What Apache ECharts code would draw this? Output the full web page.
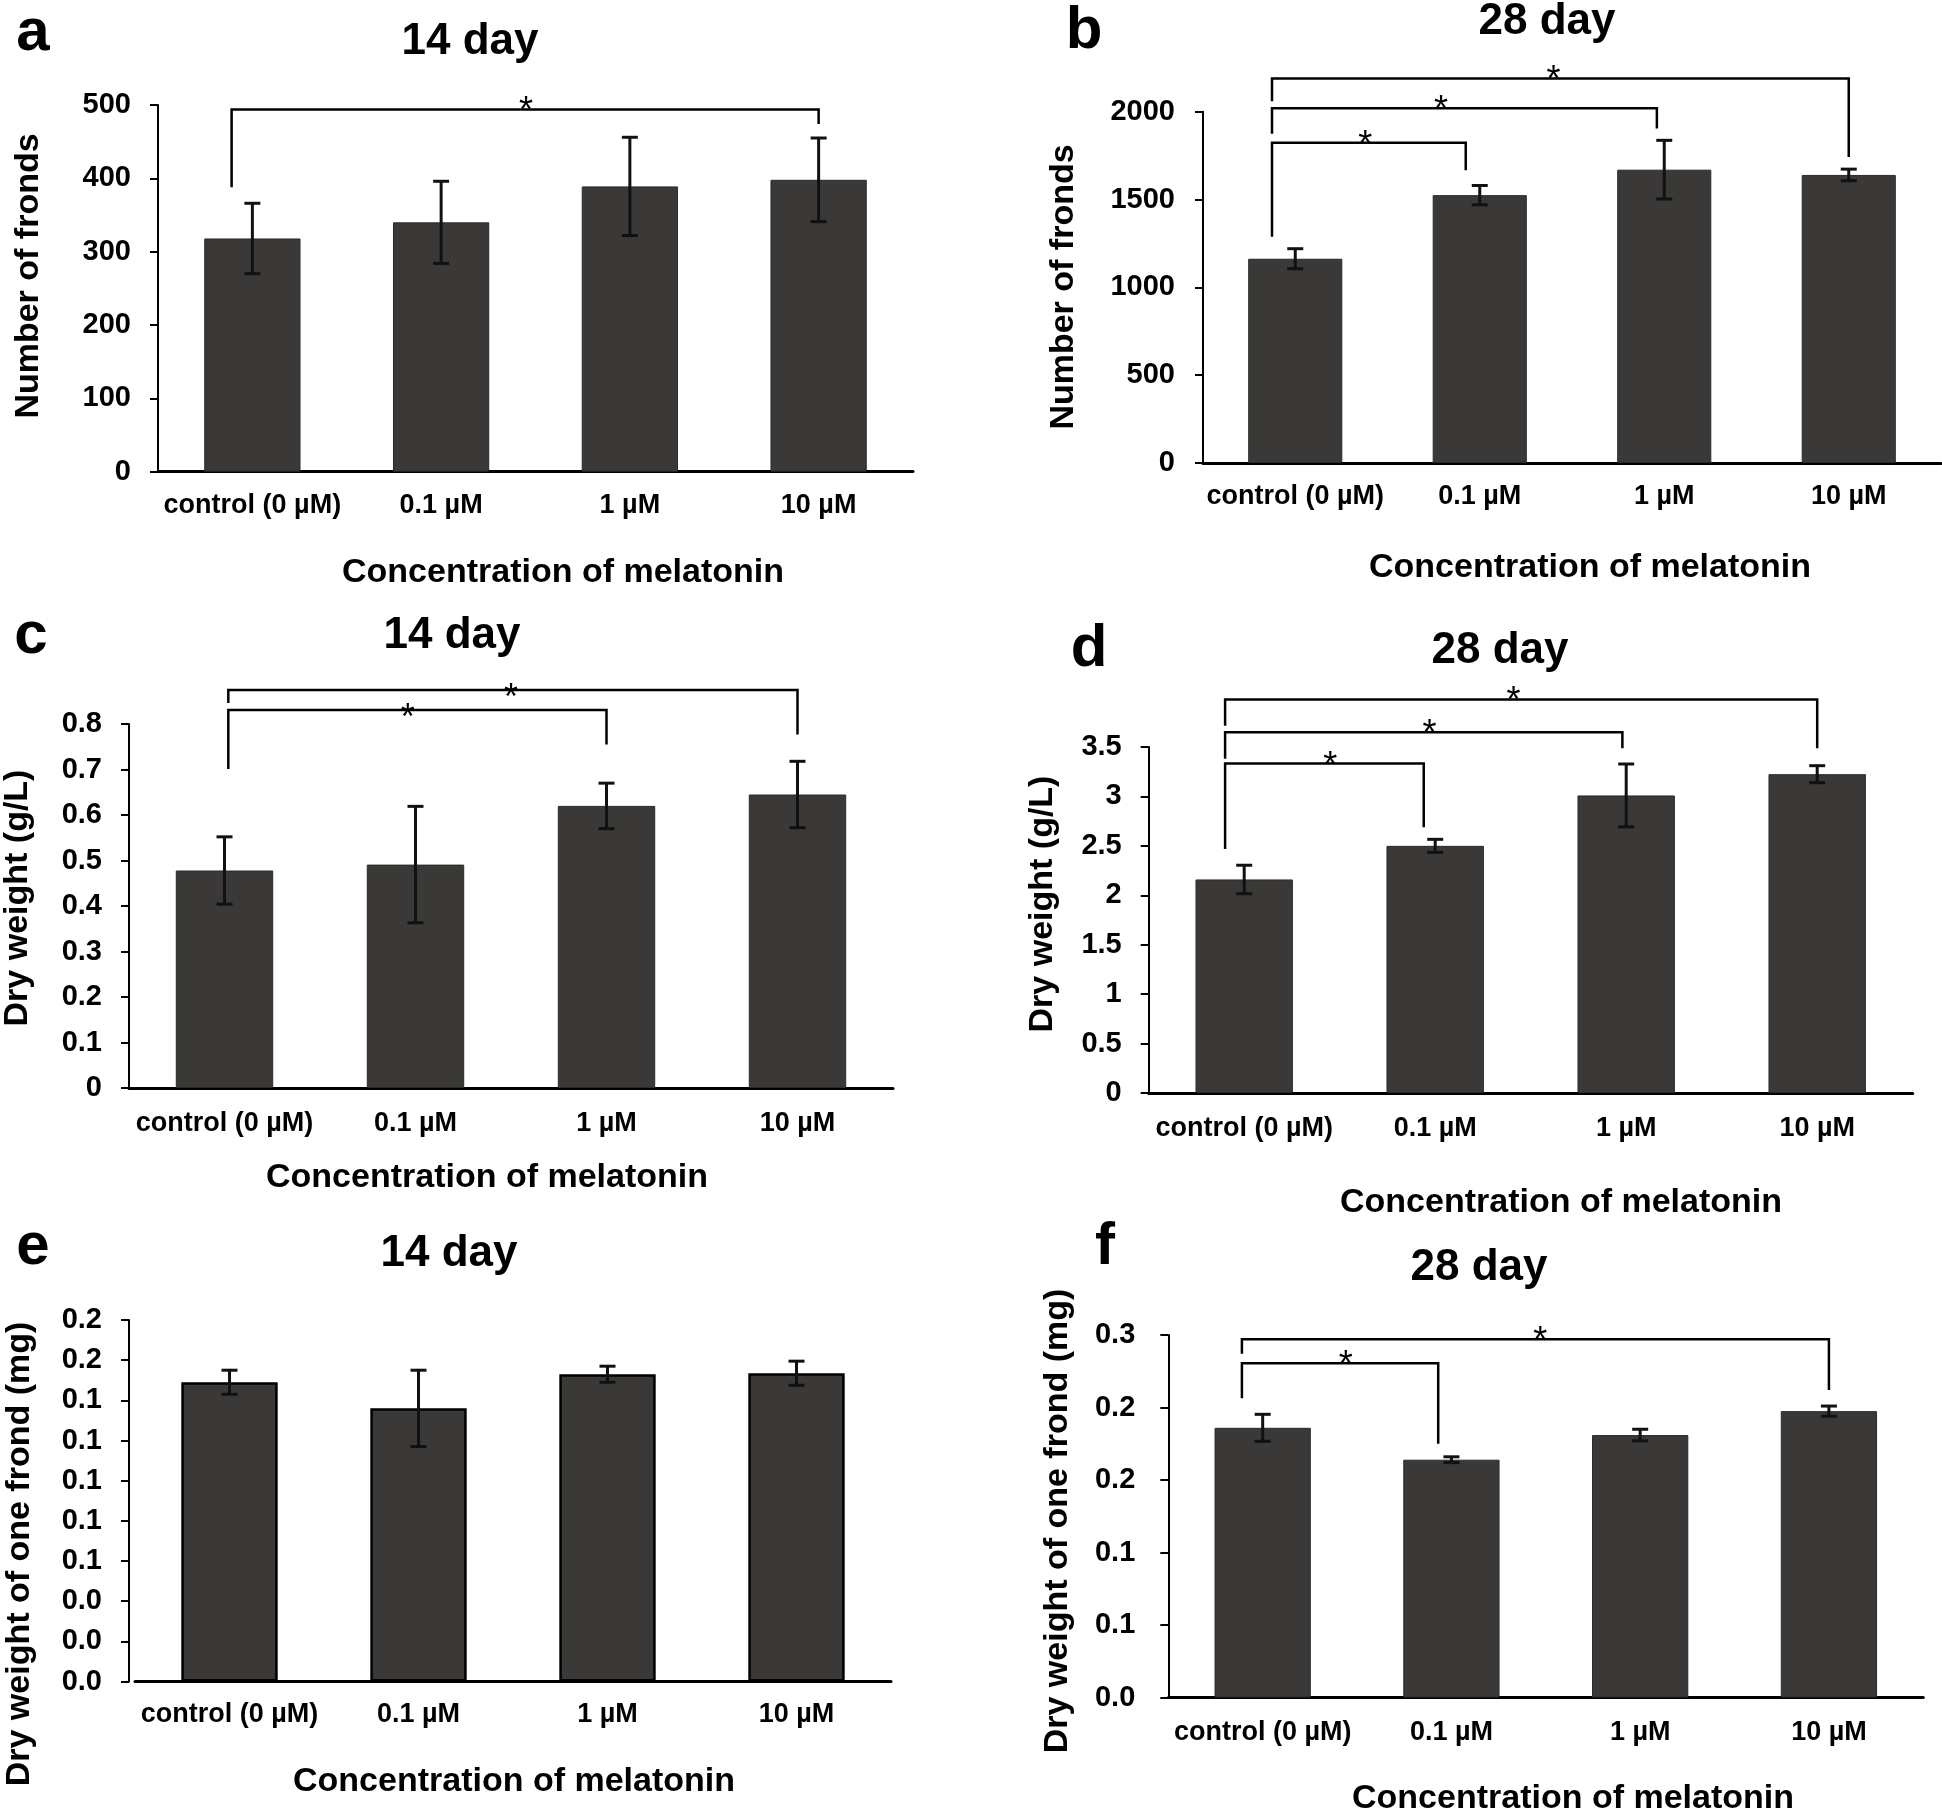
<!DOCTYPE html>
<html><head><meta charset="utf-8">
<script src="https://cdn.jsdelivr.net/npm/echarts@6/dist/echarts.min.js"></script>
<style>html,body{margin:0;padding:0;background:#fff}#c{width:1942px;height:1815px}</style>
</head><body><div id="c"></div>
<script>
// ---------------- DATA ----------------
const categories = ['control (0 µM)', '0.1 µM', '1 µM', '10 µM'];

// a: number of fronds, 14 day
const frondsDay14 = [318, 340, 389, 398];
const frondsDay14Err = [48, 56, 67, 57];
// b: number of fronds, 28 day
const frondsDay28 = [1163, 1525, 1670, 1640];
const frondsDay28Err = [57, 55, 167, 33];
// c: dry weight (g/L), 14 day
const dryWeightDay14 = [0.478, 0.491, 0.620, 0.645];
const dryWeightDay14Err = [0.074, 0.128, 0.050, 0.073];
// d: dry weight (g/L), 28 day
const dryWeightDay28 = [2.16, 2.50, 3.01, 3.225];
const dryWeightDay28Err = [0.144, 0.066, 0.318, 0.086];
// e: dry weight of one frond (mg), 14 day
const frondWeightDay14 = [0.149, 0.136, 0.153, 0.1535];
const frondWeightDay14Err = [0.006, 0.019, 0.004, 0.006];
// f: dry weight of one frond (mg), 28 day
const frondWeightDay28 = [0.186, 0.164, 0.181, 0.1975];
const frondWeightDay28Err = [0.0093, 0.002, 0.004, 0.0035];

// significance brackets: [level, fromCat, toCat, fromLegEnd, toLegEnd, starCat]
const sigA = [[494, -0.11, 3.0, 388, 474, 1.45]];
const sigB = [[1823, -0.126, 0.924, 1288, 1667, 0.38],
              [2019, -0.126, 1.96, 1875, 1905, 0.79],
              [2189, -0.126, 3.0, 2060, 1742, 1.40]];
const sigC = [[0.831, 0.02, 2.0, 0.701, 0.755, 0.96],
              [0.875, 0.02, 3.0, 0.846, 0.777, 1.50]];
const sigD = [[3.332, -0.1, 0.94, 2.468, 2.688, 0.45],
              [3.648, -0.1, 1.98, 3.38, 3.488, 0.97],
              [3.98, -0.1, 3.0, 3.716, 3.488, 1.41]];
const sigE = [];
const sigF = [[0.2305, -0.11, 0.93, 0.2063, 0.175, 0.44],
              [0.247, -0.11, 3.0, 0.237, 0.212, 1.47]];

// y axis ranges / tick steps: [min, max, interval]
const yAxisA = [0, 500, 100];
const yAxisB = [0, 2000, 500];
const yAxisC = [0, 0.8, 0.1];
const yAxisD = [0, 3.5, 0.5];
const yAxisE = [0, 0.18, 0.02];
const yAxisF = [0, 0.25, 0.05];

const panelLetters = ['a', 'b', 'c', 'd', 'e', 'f'];
const panelTitles = ['14 day', '28 day', '14 day', '28 day', '14 day', '28 day'];
const yNames = ['Number of fronds', 'Number of fronds', 'Dry weight (g/L)', 'Dry weight (g/L)',
                'Dry weight of one frond (mg)', 'Dry weight of one frond (mg)'];
const xName = 'Concentration of melatonin';

// ---------------- LAYOUT / STYLE ----------------
const FONT = '"Liberation Sans", Arial, Helvetica, sans-serif';
function fmt1(v) { return (Math.round(v * 10 + 1e-9) / 10).toFixed(1); }
function fmtPlain(v) { return String(+(+v).toFixed(6)); }

const panels = [
  { means: frondsDay14, errs: frondsDay14Err, sig: sigA, ax: yAxisA, fmt: fmtPlain,
    grid: { left: 158, top: 105, width: 755, height: 366.7 }, yOff: 0, lblM: 27, catM: 20, starDy: 3, border: ['#2a2a2a', 1],
    letter: [33, 33], title: [470, 42], yName: [29, 276], xName: [563, 573] },
  { means: frondsDay28, errs: frondsDay28Err, sig: sigB, ax: yAxisB, fmt: fmtPlain,
    grid: { left: 1203, top: 111.7, width: 738, height: 351.3 }, yOff: 0, lblM: 28, catM: 20, starDy: 3, border: ['#2a2a2a', 1],
    letter: [1084, 31], title: [1547, 22], yName: [1064, 287], xName: [1590, 568] },
  { means: dryWeightDay14, errs: dryWeightDay14Err, sig: sigC, ax: yAxisC, fmt: fmtPlain,
    grid: { left: 129, top: 724, width: 764, height: 364 }, yOff: 0, lblM: 27, catM: 22, starDy: 9, border: ['#2a2a2a', 1],
    letter: [31, 636], title: [452, 636], yName: [18, 898], xName: [487, 1178] },
  { means: dryWeightDay28, errs: dryWeightDay28Err, sig: sigD, ax: yAxisD, fmt: fmtPlain,
    grid: { left: 1148.7, top: 747, width: 764, height: 346 }, yOff: 0, lblM: 27, catM: 22, starDy: 3, border: ['#2a2a2a', 1],
    letter: [1089, 649], title: [1500, 651], yName: [1043, 904], xName: [1561, 1203] },
  { means: frondWeightDay14, errs: frondWeightDay14Err, sig: sigE, ax: yAxisE, fmt: fmt1,
    grid: { left: 135, top: 1320, width: 756, height: 361.5 }, yOff: 6, lblM: 27, catM: 20, starDy: 3, border: ['#000', 2.5],
    letter: [33, 1247], title: [449, 1254], yName: [20, 1554], xName: [514, 1782] },
  { means: frondWeightDay28, errs: frondWeightDay28Err, sig: sigF, ax: yAxisF, fmt: fmt1,
    grid: { left: 1168.3, top: 1335, width: 755, height: 362.5 }, yOff: 0, lblM: 33, catM: 22, starDy: 3, border: ['#2a2a2a', 1],
    letter: [1105, 1247], title: [1479, 1268], yName: [1058, 1521], xName: [1573, 1799] }
];

const grids = [], xAxes = [], yAxes = [], series = [], graphics = [];

panels.forEach((p, i) => {
  grids.push(Object.assign({ outerBoundsMode: 'none', containLabel: false }, p.grid));
  xAxes.push({
    gridIndex: i, type: 'category', data: categories,
    axisLine: { show: true, lineStyle: { color: '#000', width: 3 } },
    axisTick: { show: false },
    axisLabel: { interval: 0, margin: p.catM, fontSize: 27, fontWeight: 'bold', color: '#000', fontFamily: FONT }
  });
  yAxes.push({
    gridIndex: i, type: 'value', min: p.ax[0], max: p.ax[1], interval: p.ax[2], offset: p.yOff,
    axisLine: { show: true, lineStyle: { color: '#000', width: 2 } },
    axisTick: { show: true, length: 8, lineStyle: { color: '#000', width: 2 } },
    splitLine: { show: false },
    axisLabel: { margin: p.lblM, fontSize: 29, fontWeight: 'bold', color: '#000', fontFamily: FONT,
                 showMinLabel: true, showMaxLabel: true, formatter: p.fmt }
  });
  series.push({
    type: 'bar', xAxisIndex: i, yAxisIndex: i, data: p.means, barWidth: '51%',
    itemStyle: { color: '#3a3937', borderColor: p.border[0], borderWidth: p.border[1] },
    silent: true, animation: false
  });
  series.push({
    type: 'custom', xAxisIndex: i, yAxisIndex: i, clip: false, animation: false, silent: true, z: 5,
    data: p.means.map((m, j) => [j, m - p.errs[j], m + p.errs[j]]),
    encode: { x: 0, y: [1, 2] },
    renderItem: function (params, api) {
      const lo = api.coord([api.value(0), api.value(1)]);
      const hi = api.coord([api.value(0), api.value(2)]);
      const hw = 8, st = { stroke: '#111', lineWidth: 3 };
      return { type: 'group', children: [
        { type: 'line', shape: { x1: lo[0], y1: lo[1], x2: hi[0], y2: hi[1] }, style: st },
        { type: 'line', shape: { x1: lo[0] - hw, y1: lo[1], x2: lo[0] + hw, y2: lo[1] }, style: st },
        { type: 'line', shape: { x1: hi[0] - hw, y1: hi[1], x2: hi[0] + hw, y2: hi[1] }, style: st }
      ] };
    }
  });
  if (p.sig.length) {
    const dy = p.starDy;
    series.push({
      type: 'custom', xAxisIndex: i, yAxisIndex: i, clip: false, animation: false, silent: true, z: 6,
      data: p.sig.map(s => [0, s[0], s[1], s[2], s[3], s[4], s[5]]),
      encode: { x: 0, y: 1 },
      renderItem: function (params, api) {
        const band = api.size([1, 0])[0];
        const x0 = api.coord([0, 0])[0];
        const X = c => x0 + c * band;
        const Y = v => api.coord([0, v])[1];
        const yL = Y(api.value(1));
        const xa = X(api.value(2)), xb = X(api.value(3));
        const ya = Y(api.value(4)), yb = Y(api.value(5));
        const xs = X(api.value(6));
        return { type: 'group', children: [
          { type: 'polyline', shape: { points: [[xa, ya], [xa, yL], [xb, yL], [xb, yb]] },
            style: { stroke: '#000', lineWidth: 2.5, fill: 'none' } },
          { type: 'text', style: { text: '*', x: xs, y: yL + dy, font: '36px ' + FONT, align: 'center', verticalAlign: 'middle', fill: '#000' } }
        ] };
      }
    });
  }
  graphics.push({ type: 'text', x: p.letter[0], y: p.letter[1],
    style: { text: panelLetters[i], font: 'bold 60px ' + FONT, align: 'center', verticalAlign: 'middle', fill: '#000' } });
  graphics.push({ type: 'text', x: p.title[0], y: p.title[1],
    style: { text: panelTitles[i], font: 'bold 44px ' + FONT, align: 'center', verticalAlign: 'middle', fill: '#000' } });
  graphics.push({ type: 'text', x: p.yName[0], y: p.yName[1], rotation: Math.PI / 2,
    style: { text: yNames[i], font: 'bold 34px ' + FONT, align: 'center', verticalAlign: 'middle', fill: '#000' } });
  graphics.push({ type: 'text', x: p.xName[0], y: p.xName[1],
    style: { text: xName, font: 'bold 34px ' + FONT, align: 'center', verticalAlign: 'middle', fill: '#000' } });
});

const chart = echarts.init(document.getElementById('c'), null, { renderer: 'canvas', width: 1942, height: 1815 });
chart.setOption({
  backgroundColor: '#fff',
  animation: false,
  textStyle: { fontFamily: FONT },
  grid: grids, xAxis: xAxes, yAxis: yAxes, series: series,
  graphic: { elements: graphics }
});
</script></body></html>
